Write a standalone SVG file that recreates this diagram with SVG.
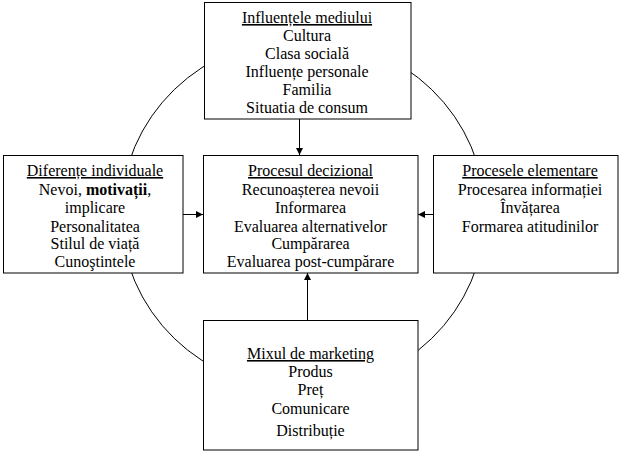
<svg xmlns="http://www.w3.org/2000/svg" width="622" height="453" viewBox="0 0 622 453">
<style>
.box{fill:#fff;stroke:#000;stroke-width:1}
.t{font-family:"Liberation Serif","Times New Roman",serif;font-size:16px;fill:#000;text-anchor:middle}
.h{text-decoration:underline}
.c{stroke:#000;stroke-width:1;fill:none}
</style>
<defs>
<marker id="arr" viewBox="0 0 10 10" refX="10" refY="5" markerWidth="8" markerHeight="7" markerUnits="userSpaceOnUse" orient="auto">
<path d="M0,0 L10,5 L0,10 z" fill="#000"/>
</marker>
</defs>
<rect width="622" height="453" fill="#fff"/>
<ellipse cx="303" cy="214" rx="182" ry="176" class="c"/>
<g id="connectors">
<line class="c" x1="299.5" y1="119" x2="299.5" y2="155" marker-end="url(#arr)"/>
<line class="c" x1="183" y1="214.5" x2="203" y2="214.5" marker-end="url(#arr)"/>
<line class="c" x1="433" y1="214.5" x2="418" y2="214.5" marker-end="url(#arr)"/>
<line class="c" x1="307.5" y1="320" x2="307.5" y2="273" marker-end="url(#arr)"/>
</g>
<g id="mediul">
<rect class="box" x="204.5" y="2.5" width="206.5" height="116.5"/>
<text class="t h" x="307" y="23">Influențele mediului</text>
<text class="t" x="307" y="41">Cultura</text>
<text class="t" x="307" y="59">Clasa socială</text>
<text class="t" x="307" y="77">Influențe personale</text>
<text class="t" x="307" y="95">Familia</text>
<text class="t" x="307" y="113">Situatia de consum</text>
</g>
<g id="diferente">
<rect class="box" x="3.5" y="155.5" width="179.5" height="117.5"/>
<text class="t h" x="95" y="176">Diferențe individuale</text>
<text class="t" x="95" y="195">Nevoi, <tspan font-weight="bold">motivații</tspan>,</text>
<text class="t" x="95" y="213">implicare</text>
<text class="t" x="95" y="232">Personalitatea</text>
<text class="t" x="95" y="249">Stilul de viață</text>
<text class="t" x="95" y="267">Cunoştintele</text>
</g>
<g id="procesul">
<rect class="box" x="203.5" y="155.5" width="214.5" height="117.5"/>
<text class="t h" x="310.5" y="176">Procesul decizional</text>
<text class="t" x="310.5" y="195">Recunoașterea nevoii</text>
<text class="t" x="310.5" y="213">Informarea</text>
<text class="t" x="310.5" y="232">Evaluarea alternativelor</text>
<text class="t" x="310.5" y="249">Cumpărarea</text>
<text class="t" x="310.5" y="267">Evaluarea post-cumpărare</text>
</g>
<g id="elementare">
<rect class="box" x="433.5" y="155.5" width="184.5" height="117.5"/>
<text class="t h" x="530" y="176">Procesele elementare</text>
<text class="t" x="530" y="195">Procesarea informației</text>
<text class="t" x="530" y="213">Învățarea</text>
<text class="t" x="530" y="232">Formarea atitudinilor</text>
</g>
<g id="marketing">
<rect class="box" x="203.5" y="320.5" width="214.5" height="129.5"/>
<text class="t h" x="310.5" y="359">Mixul de marketing</text>
<text class="t" x="310.5" y="377">Produs</text>
<text class="t" x="310.5" y="395">Preț</text>
<text class="t" x="310.5" y="414">Comunicare</text>
<text class="t" x="310.5" y="436">Distribuție</text>
</g>
</svg>
